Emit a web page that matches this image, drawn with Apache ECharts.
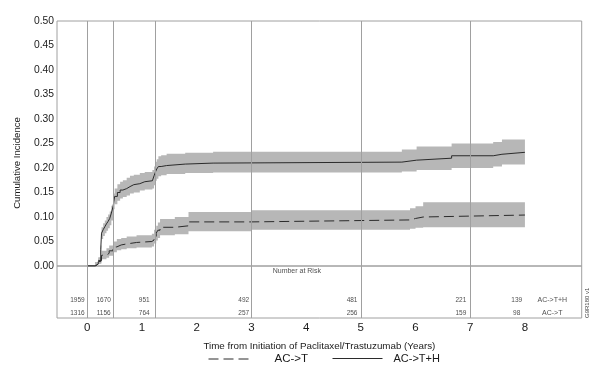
<!DOCTYPE html>
<html><head><meta charset="utf-8">
<script src="https://cdn.jsdelivr.net/npm/echarts@6/dist/echarts.min.js"></script>
<style>html,body{margin:0;padding:0;background:#fff}#c{width:595px;height:380px}</style>
</head><body><div id="c"></div>
<script>
// ---- data ----
const yearTicks = [0, 1, 2, 3, 4, 5, 6, 7, 8];
const riskLineTimes = [0, 0.475, 1.24, 3, 5, 7];

// AC->T+H (solid)
const timeTH = [0, 0.14, 0.2, 0.245, 0.26, 0.29, 0.32, 0.35, 0.38, 0.41, 0.44, 0.47, 0.485, 0.5, 0.55, 0.6, 0.65, 0.72, 0.78, 0.85, 0.96, 1.05, 1.19, 1.22, 1.25, 1.27, 1.3, 1.35, 1.45, 1.79, 2.3, 5.75, 6.02, 6.66, 7.42, 7.58, 8.0];
const valTH  = [0, 0.004, 0.009, 0.033, 0.067, 0.074, 0.08, 0.086, 0.091, 0.097, 0.108, 0.121, 0.132, 0.142, 0.15, 0.155, 0.158, 0.162, 0.166, 0.168, 0.172, 0.174, 0.177, 0.184, 0.193, 0.198, 0.203, 0.205, 0.208, 0.21, 0.212, 0.216, 0.22, 0.225, 0.228, 0.232, 0.232];
const loTH   = [0, 0.001, 0.004, 0.024, 0.055, 0.061, 0.067, 0.072, 0.077, 0.083, 0.093, 0.105, 0.116, 0.126, 0.133, 0.138, 0.141, 0.144, 0.148, 0.15, 0.154, 0.156, 0.158, 0.165, 0.174, 0.178, 0.183, 0.185, 0.188, 0.19, 0.191, 0.193, 0.196, 0.2, 0.203, 0.207, 0.207];
const hiTH   = [0, 0.008, 0.015, 0.042, 0.079, 0.087, 0.093, 0.1, 0.105, 0.111, 0.123, 0.136, 0.148, 0.158, 0.167, 0.172, 0.175, 0.18, 0.184, 0.186, 0.19, 0.192, 0.196, 0.203, 0.213, 0.218, 0.224, 0.226, 0.229, 0.231, 0.233, 0.238, 0.244, 0.25, 0.253, 0.258, 0.258];

// AC->T (dashed)
const timeT = [0, 0.15, 0.2, 0.26, 0.35, 0.4, 0.47, 0.54, 0.62, 0.72, 0.9, 1.18, 1.22, 1.26, 1.29, 1.33, 1.6, 1.85, 3.0, 5.9, 6.0, 6.14, 8.0];
const valT  = [0, 0.004, 0.011, 0.022, 0.026, 0.031, 0.039, 0.043, 0.045, 0.048, 0.05, 0.053, 0.06, 0.067, 0.073, 0.079, 0.082, 0.09, 0.094, 0.097, 0.1, 0.104, 0.104];
const loT   = [0, 0.001, 0.005, 0.014, 0.017, 0.021, 0.028, 0.032, 0.034, 0.036, 0.038, 0.04, 0.046, 0.052, 0.057, 0.063, 0.065, 0.071, 0.074, 0.076, 0.078, 0.079, 0.079];
const hiT   = [0, 0.008, 0.018, 0.031, 0.036, 0.042, 0.05, 0.055, 0.057, 0.06, 0.063, 0.066, 0.074, 0.082, 0.089, 0.096, 0.1, 0.11, 0.114, 0.118, 0.122, 0.13, 0.13];

// Number at risk
const riskColumnTimes = [-0.18, 0.3, 1.04, 2.86, 4.84, 6.83, 7.85];
const riskACTH = [1959, 1670, 951, 492, 481, 221, 139];
const riskACT  = [1316, 1156, 764, 257, 256, 159, 98];
const riskRowNames = ['AC->T+H', 'AC->T'];

// ---- chart ----
const FONT = '"Liberation Sans", Arial, sans-serif';
const TXT = '#1a1a1a';
const GRAY = '#a0a0a0';
const BAND = '#b7b7b7';
const LINE = '#2b2b2b';
const ROW_Y = [0.337, 0.096];
const HEADER_Y = 0.904;
const ROW_LABEL_X = 8.5;
const HEADER_X = 3.83;

function bandRenderer(times, lo, hi, color) {
  return function (params, api) {
    const pts = [];
    for (let i = 0; i < times.length; i++) {
      pts.push(api.coord([times[i], hi[i]]));
      if (i < times.length - 1) pts.push(api.coord([times[i + 1], hi[i]]));
    }
    for (let i = times.length - 1; i >= 0; i--) {
      pts.push(api.coord([times[i], lo[i]]));
      if (i > 0) pts.push(api.coord([times[i], lo[i - 1]]));
    }
    return { type: 'polygon', shape: { points: pts }, style: { fill: color }, silent: true };
  };
}

const riskData = [];
riskColumnTimes.forEach((t, i) => {
  riskData.push({ value: [t, ROW_Y[0]], txt: String(riskACTH[i]), fs: 6.5 });
  riskData.push({ value: [t, ROW_Y[1]], txt: String(riskACT[i]), fs: 6.5 });
});
riskRowNames.forEach((n, i) => riskData.push({ value: [ROW_LABEL_X, ROW_Y[i]], txt: n, fs: 7 }));
riskData.push({ value: [HEADER_X, HEADER_Y], txt: 'Number at Risk', fs: 7 });

const vLines = {
  silent: true, symbol: ['none', 'none'], label: { show: false },
  lineStyle: { color: GRAY, type: 'solid', width: 1 },
  data: riskLineTimes.map(t => ({ xAxis: t }))
};

const XMIN = -0.554, XMAX = 9.038;

const option = {
  animation: false,
  backgroundColor: '#fff',
  textStyle: { fontFamily: FONT, color: TXT },
  grid: [
    { left: 57, right: 13.3, top: 21, bottom: 114, show: true, borderColor: GRAY, borderWidth: 1, backgroundColor: 'transparent' },
    { left: 57, right: 13.3, top: 266, bottom: 62, show: true, borderColor: GRAY, borderWidth: 1, backgroundColor: 'transparent' }
  ],
  xAxis: [
    { type: 'value', gridIndex: 0, min: XMIN, max: XMAX, axisLine: { show: false }, axisTick: { show: false }, axisLabel: { show: false }, splitLine: { show: false } },
    { type: 'value', gridIndex: 1, min: XMIN, max: XMAX, axisLine: { show: false }, axisTick: { show: false }, splitLine: { show: false },
      axisLabel: { customValues: yearTicks, fontSize: 11.5, color: TXT, margin: 4, fontFamily: FONT, formatter: v => String(v) },
      name: 'Time from Initiation of Paclitaxel/Trastuzumab (Years)', nameLocation: 'middle', nameGap: 23.5,
      nameTextStyle: { fontSize: 9.8, color: TXT, fontFamily: FONT } }
  ],
  yAxis: [
    { type: 'value', gridIndex: 0, min: 0, max: 0.5, interval: 0.05, axisLine: { show: false }, axisTick: { show: false }, splitLine: { show: false },
      axisLabel: { fontSize: 10.3, color: TXT, margin: 3, fontFamily: FONT, formatter: v => v.toFixed(2) } },
    { type: 'value', gridIndex: 1, min: 0, max: 1, show: false }
  ],
  legend: [
    { data: ['AC->T'], left: 208, top: 353, padding: 0, itemWidth: 45, itemHeight: 12, selectedMode: false,
      itemStyle: { opacity: 0 }, lineStyle: { width: 1 },
      textStyle: { fontSize: 11.5, color: TXT, fontFamily: FONT, padding: [0, 0, 0, 16] } },
    { data: ['AC->T+H'], left: 332, top: 353, padding: 0, itemWidth: 50, itemHeight: 12, selectedMode: false,
      itemStyle: { opacity: 0 }, lineStyle: { width: 1 },
      textStyle: { fontSize: 11, color: TXT, fontFamily: FONT, padding: [0, 0, 0, 6] } }
  ],
  series: [
    { type: 'custom', name: 'bandTH', xAxisIndex: 0, yAxisIndex: 0, z: 1, silent: true, data: [[0, 0]],
      renderItem: bandRenderer(timeTH, loTH, hiTH, BAND) },
    { type: 'custom', name: 'bandT', xAxisIndex: 0, yAxisIndex: 0, z: 1, silent: true, data: [[0, 0]],
      renderItem: bandRenderer(timeT, loT, hiT, BAND) },
    { type: 'line', name: 'AC->T', xAxisIndex: 0, yAxisIndex: 0, z: 3, step: 'end', symbol: 'none', silent: true,
      lineStyle: { color: LINE, width: 1, type: [10, 5] }, itemStyle: { color: LINE },
      data: timeT.map((t, i) => [t, valT[i]]) },
    { type: 'line', name: 'AC->T+H', xAxisIndex: 0, yAxisIndex: 0, z: 3, step: 'end', symbol: 'none', silent: true,
      lineStyle: { color: LINE, width: 1 }, itemStyle: { color: LINE },
      data: timeTH.map((t, i) => [t, valTH[i]]), markLine: vLines },
    { type: 'scatter', name: 'risk', xAxisIndex: 1, yAxisIndex: 1, symbolSize: 0, silent: true, z: 3,
      data: riskData.map(d => ({ value: d.value, txt: d.txt, label: { fontSize: d.fs } })),
      label: { show: true, position: 'inside', color: TXT, fontFamily: FONT, formatter: p => p.data.txt },
      markLine: vLines }
  ],
  graphic: [
    { type: 'text', x: 17, y: 163, rotation: Math.PI / 2, silent: true,
      style: { text: 'Cumulative Incidence', fontSize: 9.6, fill: TXT, fontFamily: FONT, align: 'center', verticalAlign: 'middle' } },
    { type: 'text', x: 584, y: 318, rotation: Math.PI / 2, silent: true,
      style: { text: 'G9R180 v1', fontSize: 6, fill: '#444', fontFamily: FONT } }
  ]
};

const chart = echarts.init(document.getElementById('c'), null, { renderer: 'canvas' });
chart.setOption(option);
</script>
</body></html>
